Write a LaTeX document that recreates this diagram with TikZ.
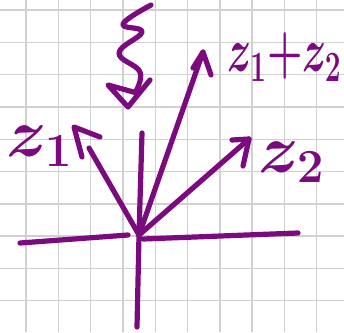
\documentclass[tikz,border=0pt]{standalone}
\usepackage{fontspec}
\begin{document}
\definecolor{pen}{RGB}{122,10,125}
\definecolor{gridc}{RGB}{208,208,208}
\begin{tikzpicture}[x=1pt,y=-1pt,
  ink/.style={draw=pen, line width=5.2pt, line cap=round, line join=round},
  gridline/.style={draw=gridc, line width=1.4pt},
  lbl/.style={text=pen, inner sep=0pt, font=\fontsize{20}{24}\selectfont\boldmath}]
\useasboundingbox (0,0) rectangle (344,332);
\fill[white] (0,0) rectangle (344,332);
\foreach \i in {0,...,9} {
  \draw[gridline] (26+32.3*\i,0) -- (26+32.3*\i,332);
  \draw[gridline] (0,10+32.3*\i) -- (344,10+32.3*\i);
}
% axes
\coordinate (O) at (139,235);
\coordinate (xl) at (20,243);
\coordinate (xlm) at (128,235);
\coordinate (xrm) at (143,239);
\coordinate (xr) at (298,233);
\coordinate (yt) at (142,133);
\coordinate (yb) at (137,327);
\draw[ink] (xl) -- (xlm);
\draw[ink] (xrm) -- (xr);
\draw[ink] (yt) -- (O) -- (yb);
% z1
\coordinate (a) at (89,148);
\draw[ink] (O) -- (a);
\draw[ink] (82,157) -- (74,127) -- (100,137);
% z1+z2
\coordinate (s) at (203,52);
\draw[ink] (O) -- (s);
\draw[ink] (193,68) -- (s) -- (211,75);
% z2
\coordinate (b) at (249,139);
\draw[ink] (O) -- (b);
\draw[ink] (232,140) -- (b) -- (243,166);
% squiggle arrow
\draw[ink] plot[smooth, tension=0.7] coordinates {(151,5) (123,24) (142,32) (119,53) (140,72) (135,93)};
\draw[ink] (137,93) -- (108,85) -- (128,107) -- (150,80);
% labels
\node[lbl, scale=3.3] (l1) at (40,146) {$z_1$};
\node[lbl, xscale=1.95, yscale=3.0, anchor=east] (ls) at (342,57) {$z_1{+}z_2$};
\node[lbl, scale=3.3] (l2) at (292,162) {$z_2$};
\end{tikzpicture}
\end{document}
